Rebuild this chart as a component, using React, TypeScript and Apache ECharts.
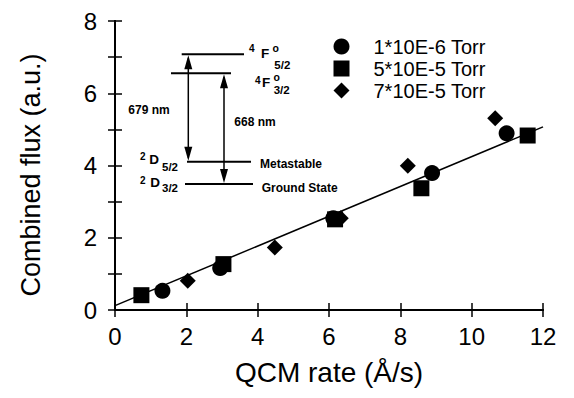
import React, { useEffect, useRef } from "react";
import * as echarts from "echarts";

const seriesNames = ["1*10E-6 Torr", "5*10E-5 Torr", "7*10E-5 Torr"];
const circlePts: number[][] = [
  [1.33, 0.53],
  [2.95, 1.16],
  [6.12, 2.54],
  [8.89, 3.79],
  [10.98, 4.89],
];
const squarePts: number[][] = [
  [0.74, 0.41],
  [3.04, 1.27],
  [6.17, 2.51],
  [8.59, 3.37],
  [11.57, 4.83],
];
const diamondPts: number[][] = [
  [2.04, 0.81],
  [4.48, 1.73],
  [6.33, 2.54],
  [8.21, 3.99],
  [10.66, 5.31],
];
const fitLine: number[][] = [
  [0, 0.12],
  [12, 5.07],
];
const xTicks = [0, 2, 4, 6, 8, 10, 12];
const yTicks = [0, 2, 4, 6, 8];
const xTitle = "QCM rate (Å/s)";
const yTitle = "Combined flux (a.u.)";

const FONT = '"Liberation Sans", Arial, Helvetica, sans-serif';

function txt(text: string, x: number, y: number, size: number, align = "center") {
  return {
    type: "text",
    x,
    y,
    silent: true,
    style: {
      text,
      fill: "#000",
      fontSize: size,
      fontWeight: "bold",
      fontFamily: FONT,
      align,
      verticalAlign: "middle",
    },
  };
}

function hline(x1: number, x2: number, y: number) {
  return {
    type: "line",
    silent: true,
    shape: { x1, y1: y, x2, y2: y },
    style: { stroke: "#000", lineWidth: 2 },
  };
}

function arrow(x: number, yTop: number, yBot: number) {
  const hw = 4;
  const hl = 14;
  return [
    {
      type: "line",
      silent: true,
      shape: { x1: x, y1: yTop + 4, x2: x, y2: yBot - 4 },
      style: { stroke: "#000", lineWidth: 1.5 },
    },
    {
      type: "polygon",
      silent: true,
      shape: { points: [[x, yTop + 1], [x - hw, yTop + 1 + hl], [x + hw, yTop + 1 + hl]] },
      style: { fill: "#000" },
    },
    {
      type: "polygon",
      silent: true,
      shape: { points: [[x, yBot - 1], [x - hw, yBot - 1 - hl], [x + hw, yBot - 1 - hl]] },
      style: { fill: "#000" },
    },
  ];
}

export default function App() {
  const ref = useRef<HTMLDivElement>(null);
  useEffect(() => {
    document.body.style.margin = "0";
    if (!ref.current) return;
    const chart = echarts.init(ref.current, null, { renderer: "svg" });
    const axisLine = { show: true, lineStyle: { color: "#000", width: 2 } };
    const tick = { show: true, inside: true, length: 7, lineStyle: { color: "#000", width: 1.5 } };
    const graphics: any[] = [
      {
        type: "text",
        x: 31,
        y: 175,
        rotation: Math.PI / 2,
        silent: true,
        style: {
          text: yTitle,
          fill: "#000",
          fontSize: 27,
          fontFamily: FONT,
          align: "center",
          verticalAlign: "middle",
        },
      },
      hline(181.7, 244, 54.3),
      hline(171, 231, 73.3),
      hline(187, 251, 161.7),
      hline(185, 253, 184),
      ...arrow(188.3, 54.3, 161.7),
      ...arrow(224, 73.3, 184),
      txt("679 nm", 149, 110, 12),
      txt("668 nm", 255, 122.3, 12),
      txt("Metastable", 260, 164.3, 12, "left"),
      txt("Ground State", 261.7, 187.7, 12, "left"),
      txt("4", 251.7, 48.3, 10),
      txt("F", 265, 53.5, 13.5),
      txt("o", 275.7, 47.7, 10.5),
      txt("5/2", 282.3, 65, 11.5),
      txt("4", 257.7, 80, 10),
      txt("F", 266, 82, 13.5),
      txt("o", 276.7, 76.5, 10.5),
      txt("3/2", 281.7, 90, 11.5),
      txt("2", 142.7, 156, 10),
      txt("D", 154, 159.3, 13.5),
      txt("5/2", 170, 166.7, 11.5),
      txt("2", 142.7, 180, 10),
      txt("D", 155, 182.7, 13.5),
      txt("3/2", 170, 188.3, 11.5),
    ];
    chart.setOption({
      animation: false,
      backgroundColor: "#fff",
      textStyle: { fontFamily: FONT },
      grid: { left: 115, right: 31, top: 21, bottom: 88, containLabel: false },
      legend: {
        data: seriesNames,
        orient: "vertical",
        left: 333.5,
        top: 36.5,
        padding: 0,
        itemWidth: 16,
        itemHeight: 16,
        itemGap: 2,
        itemStyle: { opacity: 1 },
        textStyle: {
          fontSize: 20,
          fontFamily: FONT,
          color: "#000",
          lineHeight: 20,
          padding: [0, 0, 0, 19],
        },
        selectedMode: false,
      },
      xAxis: [
        {
          type: "value",
          min: 0,
          max: 12,
          interval: 2,
          position: "bottom",
          name: xTitle,
          nameLocation: "middle",
          nameGap: 48,
          nameTextStyle: { fontSize: 28, color: "#000", fontFamily: FONT },
          axisLine,
          axisTick: tick,
          splitLine: { show: false },
          axisLabel: {
            fontSize: 24,
            color: "#000",
            margin: 14,
            fontFamily: FONT,
            formatter: (v: number) => (xTicks.includes(v) ? String(v) : ""),
          },
        },
        {
          type: "value",
          min: 0,
          max: 12,
          interval: 2,
          position: "top",
          axisLine,
          axisTick: tick,
          splitLine: { show: false },
          axisLabel: { show: false },
        },
      ],
      yAxis: [
        {
          type: "value",
          min: 0,
          max: 8,
          interval: 1,
          position: "left",
          axisLine,
          axisTick: tick,
          splitLine: { show: false },
          axisLabel: {
            fontSize: 24,
            color: "#000",
            margin: 18,
            fontFamily: FONT,
            formatter: (v: number) => (yTicks.includes(v) ? String(v) : ""),
          },
        },
        {
          type: "value",
          min: 0,
          max: 8,
          interval: 1,
          position: "right",
          axisLine,
          axisTick: tick,
          splitLine: { show: false },
          axisLabel: { show: false },
        },
      ],
      series: [
        {
          name: "fit",
          type: "line",
          data: fitLine,
          symbol: "none",
          lineStyle: { color: "#000", width: 1.5 },
          z: 1,
        },
        {
          name: seriesNames[0],
          type: "scatter",
          data: circlePts,
          symbol: "circle",
          symbolSize: 16,
          itemStyle: { color: "#000", opacity: 1 },
          z: 3,
        },
        {
          name: seriesNames[1],
          type: "scatter",
          data: squarePts,
          symbol: "rect",
          symbolSize: 16,
          itemStyle: { color: "#000", opacity: 1 },
          z: 3,
        },
        {
          name: seriesNames[2],
          type: "scatter",
          data: diamondPts,
          symbol: "diamond",
          symbolSize: 16,
          itemStyle: { color: "#000", opacity: 1 },
          z: 3,
        },
      ],
      graphic: graphics,
    });
    return () => chart.dispose();
  }, []);
  return <div ref={ref} style={{ width: 574, height: 398 }} />;
}
